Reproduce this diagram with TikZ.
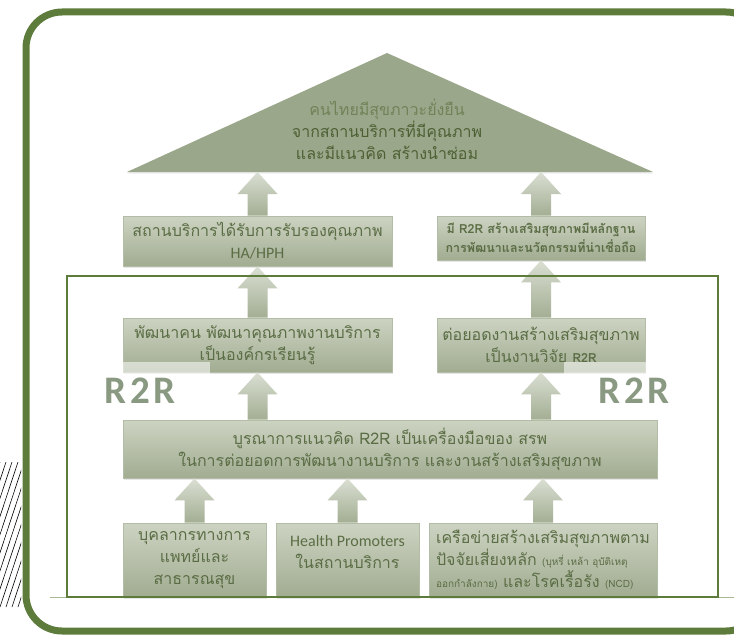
\documentclass[tikz,border=0pt]{standalone}
\usepackage{fontspec}
\setmainfont[Script=Thai]{Loma}
\newfontfamily\latfont{Carlito}
\newfontfamily\tagfont[LetterSpace=9]{Carlito}
\usetikzlibrary{calc,shadows}
\definecolor{frame}{HTML}{5D7B3A}
\definecolor{boxtop}{HTML}{CDD3C2}
\definecolor{boxbot}{HTML}{A1AC91}
\definecolor{boxline}{HTML}{B3BCA6}
\definecolor{ink}{HTML}{5A6D44}
\definecolor{roof}{HTML}{9BA78A}
\definecolor{roofink}{HTML}{4C6034}
\definecolor{rooflight}{HTML}{6F8258}
\definecolor{arrtop}{HTML}{DADFD3}
\definecolor{arrbot}{HTML}{A3AE93}
\definecolor{tagink}{HTML}{8A9982}
\tikzset{
  box/.style={draw=boxline, line width=0.8pt, top color=boxtop, bottom color=boxbot,
    text=ink, align=center, inner sep=0pt, font=\fontsize{16}{22}\selectfont,
    drop shadow={opacity=0.2, shadow xshift=1pt, shadow yshift=-1.5pt}},
  uparrow/.style={top color=arrtop, bottom color=arrbot, draw=none},
  tag/.style={fill=white, fill opacity=0.55, text opacity=1, text=tagink,
    font=\tagfont\bfseries\fontsize{39}{39}\selectfont, minimum width=140, minimum height=58},
  hatch/.style={draw=black, line width=0.6pt},
}
\newcommand\blockup[2]{%
  \path[uparrow] let \p1=(#1), \p2=(#2) in
    (\x1-10pt,\y1) -- (\x1-10pt,\y2-22pt) -- (\x1-20pt,\y2-22pt) -- (\x1,\y2)
    -- (\x1+20pt,\y2-22pt) -- (\x1+10pt,\y2-22pt) -- (\x1+10pt,\y1) -- cycle;}

\begin{document}
\begin{tikzpicture}[x=1pt,y=-1pt]
  \useasboundingbox (0,0) rectangle (734,642);

  % hatching on the left
  \begin{scope}
    \clip (0,462) rectangle (21,607);
    \foreach \hx in {-48,-42,...,18}
      \draw[hatch] (\hx,607) -- ++(48,-145);
  \end{scope}

  \draw[draw=frame, line width=7pt, rounded corners=36pt] (26,12) rectangle (762,631);

  % roof
  \coordinate (tl) at (127,172);
  \coordinate (tr) at (653,172);
  \coordinate (ta) at (387,53);
  \fill[roof, drop shadow={opacity=0.15, shadow xshift=0pt, shadow yshift=-1.5pt}] (tl) -- (ta) -- (tr) -- cycle;
  \node[align=center, text=roofink, font=\fontsize{16}{22}\selectfont] (goal) at (387,129)
    {{\color{rooflight}คนไทยมีสุขภาวะยั่งยืน}\\จากสถานบริการที่มีคุณภาพ\\และมีแนวคิด สร้างนำซ่อม};

  % boxes
  \node[box, minimum width=269, minimum height=50] (cert) at (257.5,241)
    {สถานบริการได้รับการรับรองคุณภาพ\\{\latfont HA/HPH}};
  \node[box, minimum width=208, minimum height=44, font=\fontsize{12.5}{19}\selectfont\bfseries] (evid) at (541,238)
    {มี R2R สร้างเสริมสุขภาพมีหลักฐาน\\การพัฒนาและนวัตกรรมที่น่าเชื่อถือ};
  \node[box, minimum width=269, minimum height=54] (learn) at (257.5,345)
    {พัฒนาคน พัฒนาคุณภาพงานบริการ\\เป็นองค์กรเรียนรู้};
  \node[box, minimum width=208, minimum height=54] (resr) at (541,345)
    {ต่อยอดงานสร้างเสริมสุขภาพ\\เป็นงานวิจัย {\fontsize{12.5}{22}\selectfont\bfseries R2R}};
  \node[box, minimum width=534, minimum height=58] (integ) at (390,449)
    {บูรณาการแนวคิด R2R เป็นเครื่องมือของ สรพ\\ในการต่อยอดการพัฒนางานบริการ และงานสร้างเสริมสุขภาพ};
  \node[box, minimum width=143, minimum height=74] (staff) at (194.5,560)
    {บุคลากรทางการ\\แพทย์และ\\สาธารณสุข};
  \node[box, minimum width=143, minimum height=74, text depth=17pt] (hp) at (347.5,560)
    {{\latfont Health Promoters}\\ในสถานบริการ};
  \node[box, minimum width=228, minimum height=74, align=left] (net) at (543,560)
    {เครือข่ายสร้างเสริมสุขภาพตาม\\ปัจจัยเสี่ยงหลัก {\fontsize{10}{12}\selectfont (บุหรี่ เหล้า อุบัติเหตุ}\\{\fontsize{10}{12}\selectfont ออกกำลังกาย)} และโรคเรื้อรัง {\fontsize{10}{12}\selectfont (NCD)}};

  \node[tag] (tagl) at (140,391) {R2R};
  \node[tag] (tagr) at (634,391) {R2R};

  % arrows
  \blockup{cert.north}{tl}
  \blockup{evid.north}{tr}
  \blockup{learn.north}{cert.south}
  \blockup{resr.north}{evid.south}
  \blockup{integ.north -| learn.south}{learn.south}
  \blockup{integ.north -| resr.south}{resr.south}
  \blockup{staff.north}{integ.south}
  \blockup{hp.north}{integ.south}
  \blockup{net.north}{integ.south}

  \draw[draw=frame!55, line width=0.8pt] (50,597) -- (734,597);
  \draw[draw=frame, line width=2.5pt] (67,276) rectangle (718,597);
\end{tikzpicture}
\end{document}
